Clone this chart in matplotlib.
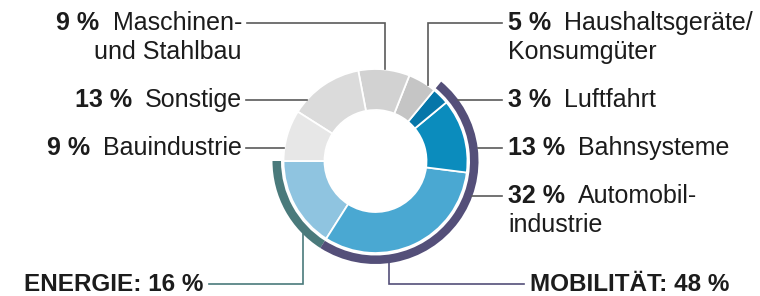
import matplotlib
matplotlib.use("Agg")
import matplotlib.pyplot as plt

# ---------------- data ----------------
sector_names = ["Energie", "Automobil-\nindustrie", "Bahnsysteme", "Luftfahrt",
                "Haushaltsgeräte/\nKonsumgüter", "Maschinen-\nund Stahlbau",
                "Sonstige", "Bauindustrie"]
sector_shares = [16, 32, 13, 3, 5, 9, 13, 9]
sector_colors = ["#8fc4e0", "#4aa8d2", "#0b8cbd", "#0676a9",
                 "#c5c5c5", "#d2d2d2", "#dbdbdb", "#e7e7e7"]

group_names = ["ENERGIE", "MOBILITÄT", ""]
group_shares = [16, 48, 36]
group_colors = ["#4a7a7b", "#544f79", "none"]

# labels: (sector index, baseline y of first line)
left_labels = [(5, 30), (6, 107), (7, 155)]
right_labels = [(4, 30), (3, 107), (2, 155), (1, 203)]

# ---------------- figure ----------------
W, H = 760, 296
fig = plt.figure(figsize=(W / 100, H / 100), dpi=100)
ax = fig.add_axes([0, 0, 1, 1])

cx, cy = 375.5, 161
R, r_in = 92, 51
band_in, band_out = 94.5, 103

ax.pie(sector_shares, colors=sector_colors, startangle=180, counterclock=False,
       radius=R, center=(cx, cy),
       wedgeprops=dict(width=R - r_in, edgecolor="white", linewidth=1.3))
ax.pie(group_shares, colors=group_colors, startangle=180, counterclock=False,
       radius=band_out, center=(cx, cy),
       wedgeprops=dict(width=band_out - band_in, edgecolor="none", linewidth=0))

ax.set_xlim(0, W)
ax.set_ylim(H, 0)
ax.set_aspect("equal", adjustable="box")
ax.axis("off")

plt.rcParams["font.family"] = ["Liberation Sans", "DejaVu Sans"]
FS = 18
FSG = 17.5
GAP = 13
TXT = "#1c1c1c"
LINE = "#5a5a5a"
LW = 1.2
LEAD = 29

renderer = fig.canvas.get_renderer()


def width_of(t):
    return t.get_window_extent(renderer).width


def label(x, y, pct, lines, ha):
    """Draw bold pct + regular text; x is left (ha='left') or right edge."""
    first = lines[0]
    if ha == "left":
        tb = ax.text(x, y, pct, fontsize=FS, fontweight="bold", color=TXT,
                     ha="left", va="baseline")
        wb = width_of(tb)
        ax.text(x + wb + GAP, y, first, fontsize=FS, color=TXT,
                ha="left", va="baseline")
        for i, ln in enumerate(lines[1:], 1):
            ax.text(x, y + LEAD * i, ln, fontsize=FS, color=TXT,
                    ha="left", va="baseline")
    else:
        tr = ax.text(x, y, first, fontsize=FS, color=TXT,
                     ha="right", va="baseline")
        wr = width_of(tr)
        ax.text(x - wr - GAP, y, pct, fontsize=FS, fontweight="bold", color=TXT,
                ha="right", va="baseline")
        for i, ln in enumerate(lines[1:], 1):
            ax.text(x, y + LEAD * i, ln, fontsize=FS, color=TXT,
                    ha="right", va="baseline")


def circle_x(y, rad, side):
    dy = y - cy
    dx = (rad ** 2 - dy ** 2) ** 0.5
    return cx + side * dx


def circle_y(x, rad, side):
    dx = x - cx
    dy = (rad ** 2 - dx ** 2) ** 0.5
    return cy + side * dy


LX = 242   # right edge of left labels
RX = 508   # left edge of right labels

# left labels
for idx, base in left_labels:
    lines = sector_names[idx].split("\n")
    label(LX, base, f"{sector_shares[idx]} %", lines, "right")
    yl = base - 7
    if idx == 5:  # Maschinen: goes over then down to ring top
        vx = 385
        ax.plot([LX + 5, vx, vx], [yl, yl, circle_y(vx, R, -1)],
                color=LINE, lw=LW, solid_joinstyle="miter")
    else:
        ax.plot([LX + 4, circle_x(yl, R, -1)], [yl, yl], color=LINE, lw=LW)

# right labels
for idx, base in right_labels:
    lines = sector_names[idx].split("\n")
    label(RX, base, f"{sector_shares[idx]} %", lines, "left")
    yl = base - 7
    if idx == 4:  # Haushalt: up from ring, then right
        vx = 428
        ax.plot([vx, vx, RX - 6], [circle_y(vx, R, -1), yl, yl],
                color=LINE, lw=LW, solid_joinstyle="miter")
    else:
        ax.plot([circle_x(yl, band_out, 1), RX - 6], [yl, yl],
                color=LINE, lw=LW)

# group labels
gy = 291
gl = gy - 7
ax.text(203, gy, f"{group_names[0]}: {group_shares[0]} %", fontsize=FSG,
        fontweight="bold", color=TXT, ha="right", va="baseline")
vx = 303
ax.plot([209, vx, vx], [gl, gl, circle_y(vx, band_out, 1)],
        color=group_colors[0], lw=LW, solid_joinstyle="miter")

ax.text(530, gy, f"{group_names[1]}: {group_shares[1]} %", fontsize=FSG,
        fontweight="bold", color=TXT, ha="left", va="baseline")
vx = 389
ax.plot([vx, vx, 524], [circle_y(vx, band_out, 1), gl, gl],
        color=group_colors[1], lw=LW, solid_joinstyle="miter")

fig.savefig("out.png", dpi=100, facecolor="white")
